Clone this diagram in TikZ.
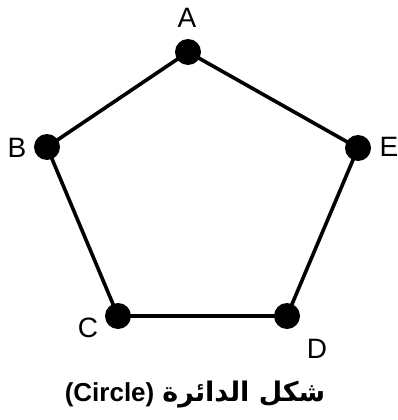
\documentclass[tikz,border=0pt]{standalone}
\usepackage{fontspec}
\setmainfont{Liberation Sans}
\newfontfamily\arabicfont[Script=Arabic]{DejaVu Sans}
\TeXXeTstate=1
\begin{document}
\begin{tikzpicture}[x=1pt,y=-1pt,
  vertex/.style={circle,fill=black,inner sep=0pt,minimum size=26pt},
  edge/.style={line width=3.6pt},
  lbl/.style={font=\fontsize{28}{32}\selectfont,inner sep=0pt}]
\useasboundingbox (0,0) rectangle (397,420);
\node[vertex] (A) at (188,52) {};
\node[vertex] (B) at (47,147) {};
\node[vertex] (E) at (358,148) {};
\node[vertex] (C) at (118,316) {};
\node[vertex] (D) at (287,316) {};
\draw[edge] (A.center) -- (B.center) -- (C.center) -- (D.center) -- (E.center) -- (A.center);
\node[lbl] (la) at (187,18) {A};
\node[lbl] (lb) at (17,148) {B};
\node[lbl] (le) at (389,147) {E};
\node[lbl] (lc) at (88,328) {C};
\node[lbl] (ld) at (317,349) {D};
\node[inner sep=0pt,anchor=base,font=\bfseries] (cap) at (195,401) {\fontsize{26}{30}\selectfont (Circle)\hspace{8pt}{\arabicfont\fontsize{27}{32}\selectfont\beginR شكل الدائرة\endR}};
\end{tikzpicture}
\end{document}
